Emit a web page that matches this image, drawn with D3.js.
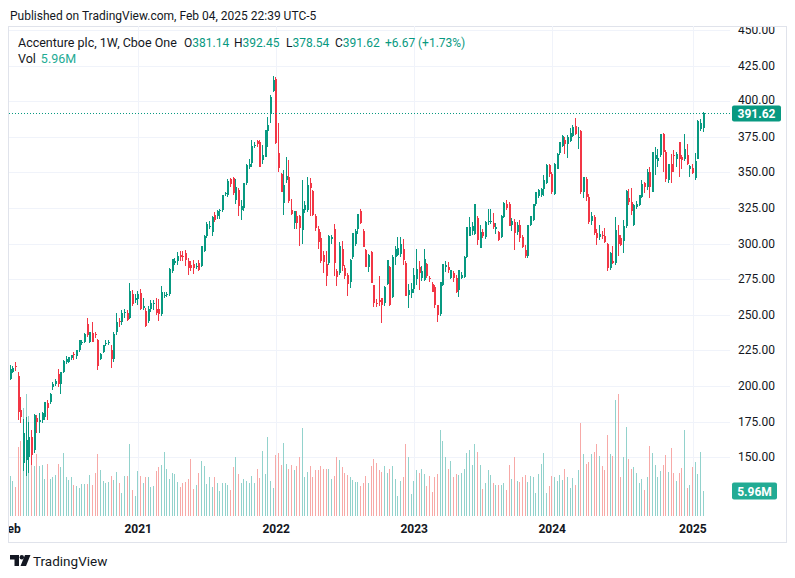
<!DOCTYPE html>
<html><head><meta charset="utf-8">
<script src="https://cdn.jsdelivr.net/npm/d3@7"></script>
<style>html,body{margin:0;padding:0;background:#fff;}svg{display:block;font-family:Roboto,"Noto Sans",sans-serif;}</style>
</head><body><svg id="c" width="795" height="578"></svg>
<script>
// Weekly candles, Accenture plc (ACN), week of 2020-02-03 .. 2025-02-03
const weekStart = "2020-02-03";
const opens = [
205.1,209.8,214,207,183,146,148,150,164.4,155.1,
177.2,174.9,176,178.4,187.7,188.8,199.3,201.6,208.6,201.6,
209.8,217,216.8,219.8,222.5,220.7,224.9,230.5,230.7,243.5,
230.7,237.2,236.5,232.3,219,223.7,229.5,230,225.4,219.1,
237.6,245.5,244.6,251,251.5,248,264.3,260,260.9,265.5,
255,252.7,245.7,253.9,257.5,254.3,254.3,250.4,263.5,264,
264.8,281,286.5,287.6,292.2,291.5,293.4,287.6,285.2,285.9,
283.5,286.4,284.1,294.6,305.5,311.5,307.8,320.2,319,322.5,
323.6,334.5,334,345,345.7,330.6,337.8,323.8,325,342.4,
354,356.8,368.5,372.2,371.5,358.7,361,379,390.8,407.1,
415.7,363.4,348.9,328.5,344.8,347,323.8,314.3,319.6,319.2,
309.4,323.8,323.8,342.4,336.6,319.2,309.9,304,291.7,285.5,
286.6,303.5,310.3,280.8,279.6,296,283,277.8,273,290.5,
299.8,310.3,323,309,295.1,283.5,294,270.7,258.5,260,
261.4,257.9,271.9,283.5,262.6,290.5,292,292.8,296.3,286.3,
263.7,265,268,275,283.5,276,274.2,285.4,276,271.9,
269.6,256.8,250.5,270.7,283.5,283.5,276.1,279.3,276.1,267.2,
276,276.5,290.5,305.6,309,306.8,317.6,296.7,308.3,304.8,
315,315.3,314.6,310.5,308.3,304.8,318.8,328,328,313,
315.3,308,313,304.8,295.5,290.9,312.9,316.5,328,333.2,
334,338.5,342.5,354.8,349,335,352.5,363.4,368.8,372.5,
370,372.3,375.8,382.7,374,379.2,336.2,345.5,332.7,316,
318.8,307.6,304.5,306.3,305,300,282.9,288,286.3,306,
303.8,301.8,312,331.7,329.4,313.1,325.7,327,332.9,342.2,
339.4,350.3,336.4,359.6,358,362,377,364.3,344.5,356,
362.4,359,371.2,360.8,359.6,362,352.6,353,346,359.6,
380.5,381.14];
const highs = [
214.4,214,216.5,209.5,192,177,178.5,175,169,180,
179.5,180.7,182,188.8,190,195,202.8,205,212,210,
218,221,220.5,222,224,225.5,232,232,236.8,247.6,
237.7,244.6,238,233,223,228.5,232,232,228.4,237.6,
251,248,253,254,253,272.5,267,264.5,266.6,268,
262,255,256,260,260,262,261,270,266,266,
282.5,289,290,294,294.6,295,295.5,290,287.6,288.6,
286,288.6,298.5,306,315,316,319.5,322,323.5,324.5,
334,336,345.2,346,346.5,345,339,330.5,342.5,356,
359,372.5,371.5,372.7,372.7,369,380,389,404,417.3,
417,384.3,349.4,351.5,360.5,358.7,331.3,322.7,322.7,320,
344.7,329.6,346.6,346,337.5,321,312,308,294.6,294.8,
306,306,313.4,282,301,301.7,285,279,289,307.2,
310,320.7,324.5,310,296,292.8,295,271,260.7,277,
262,270,288.2,284,291.7,298,304.4,304.9,303.3,288,
271.9,272,283,296,288,284,296,286,277,273,
270.7,257,273,285.8,288,287,281.2,281,278,281.2,
280,291,311.4,318.4,315,327.7,319.6,313,310,316,
323.9,323.9,321.1,314.5,309,320,329,330.2,329,318,
317,315,316.5,306,299,313,319.5,328,336.2,338,
339,347.9,356,356,350,356.5,363.5,371.5,376.5,375,
376,381,383,388.1,381.6,380,347,346.5,335,322,
320,310,313,309,310.8,300.5,294,298,318.9,313,
306,316.6,337.5,338,338.7,328,330,334.3,344.5,343.3,
352.6,353.8,364.3,367.7,366.6,377,377.5,365.4,356.1,363.1,
365.4,364.3,371.5,362,377,370,355,356,363.6,387,
387.5,392.45];
const lows = [
204,209,210.5,176,173.7,140,137,139,144.6,153,
166.7,166.7,174,176,176,187,197,200,199,194.6,
209,215.5,216,218,218.5,219,224,229,230,234.5,
230,230.5,233.5,211.4,218,223,228,229,212.8,217,
236,241.5,243,248,245.7,247,256,258,257,253,
253,241.5,244,252,253.5,250,245.7,249,262,262.5,
263,279,285,285,287.6,288,284.5,277.6,280.8,278.6,
282,281,283.5,294,304,310,305,315,317.5,317.5,
322,333.5,333,340,334,328,319.2,316.8,323,341,
352,354,367,367.5,353.5,356,360.5,368,384.5,406.4,
370,350.5,335.9,320,342.4,328.5,320.3,310.1,310.3,298.3,
300,321.5,322,319.6,319,309,296.4,286,279.6,270,
285,300,277.3,270,278,281,275,263.3,268.4,289,
298,307,313.8,297.5,283.5,280,272.3,255.5,255.6,256,
244,256.3,270.7,256,261.4,284.7,291,290.5,284.7,263,
254.4,262,265,271,267,274,274,276,273,266,
254.4,245,249,270,280,279,275,273,265,262.6,
275,276,290,305,306,306,298.6,296.7,304,303,
313,314,310.5,307,302,304,318,323.4,312,309,
295.5,306,301.3,297,289.7,290,312,316,326,332,
333,333.2,342,347,335,334,352,362,368,363,
360,371,375,376,366.4,335,332,330,314,313,
306,299,302.6,303,300.3,280.5,281.7,285.5,285.2,291,
298,293.3,311,327,320,312,324,326,332,335.2,
337.5,331.7,336,348,353.8,361,350,343.3,342.2,342.2,
350.3,353.8,346.8,352,358,355,346.8,349,344.5,359,
379,378.54];
const closes = [
212.1,212.6,213,182,178.4,166.7,162,164.4,151.6,179.5,
174.9,176,180.7,188.5,184.2,194.6,201.6,203.5,201.6,209.8,
217.4,219,220.2,221.4,222,224.9,231.9,230.9,236.5,235.4,
237.7,230.9,235.4,213.7,222.6,228.4,230,230.7,219.1,236.5,
245,244.6,251.5,252,246.4,266.7,257.4,262,264.8,254.3,
256,242.2,253.9,258.5,258.2,251.5,250.4,266,264,264.8,
282.2,288.8,287.5,291.5,290.6,290.5,288.3,283,283,283,
284.5,281.3,298.5,305.5,313.9,312.2,318.9,316.7,322.5,323.2,
334,335.5,344,342,335.3,339.5,326.2,326.2,342.4,355.2,
356,368.5,369.5,369.9,353.6,362.2,379.6,383,402.9,414.5,
370.8,352.9,336,341.3,347.5,329.6,321,322.7,314.3,311,
324,327.3,341.3,339,320,311,301,287.8,287.1,277.3,
305.2,304.5,286.6,276.2,298,284,277.3,271.5,288.2,307.2,
309,320.7,314.2,297.5,283.5,291.7,272.3,257.9,257.9,259,
256.8,269.6,288.2,256.8,290.5,296.3,297,299.8,288.2,263,
267.3,268,278,282.3,279,281,289.3,277,275.4,266.1,
256.8,249.8,273,285.8,284.6,281.2,281.2,276.1,266.1,281.2,
278,290.5,311.4,311.4,312,327.7,302.5,308.3,305.3,315.3,
315.5,316,311.3,311.5,302.5,319.2,328.5,324.6,312.3,316,
307.2,312.9,303.7,297.4,290.9,312.9,319.2,328,336.2,337.8,
338,344.8,354.8,349,336.2,356,363,371.1,375.8,370,
374.6,377.4,381.6,376.9,375,336.2,346.7,332.7,315.3,319,
307.2,303.7,306.8,305.5,300.8,283,293.3,286.3,309.6,300,
299.1,312,337,329.4,323.1,327,328,334,341.7,339.4,
350.3,339.9,364.3,361.9,360,377,364.5,345,356.1,350,
361.5,362.6,359.6,358.9,366.6,356.1,354.3,349.6,358,386.3,
384.95,391.62];
// weekly volume, millions of shares
const volumes = [
9.6,8.4,7.0,16.5,17.9,25.8,29.0,23.9,16.3,11.9,
14.7,11.9,12.2,8.9,12.3,8.9,9.2,9.8,12.3,11.7,
15.1,9.4,8.6,9.4,7.4,7.2,6.7,7.6,7.6,7.6,
9.8,7.4,10.3,14.7,11.0,8.4,7.8,8.1,9.6,8.6,
10.5,7.9,5.6,9.6,9.6,17.3,6.2,4.8,10.7,9.6,
7.9,9.4,9.2,7.0,7.2,10.7,11.7,12.2,15.3,11.3,
8.9,10.2,10.0,8.1,7.0,7.9,8.1,8.8,13.7,6.4,
7.4,10.2,13.1,11.9,7.6,9.3,7.0,9.2,7.9,6.0,
7.8,7.8,7.3,6.2,11.7,14.1,10.0,7.9,8.8,8.4,
7.8,9.6,7.9,11.1,9.0,15.5,10.1,18.9,8.4,6.8,
14.5,15.1,12.2,17.5,12.4,11.3,12.2,11.0,11.9,14.1,
21.0,9.4,10.5,11.9,9.2,11.0,11.0,11.9,11.3,11.3,
11.3,8.9,9.6,14.0,13.4,11.7,10.2,9.8,9.2,8.6,
8.1,8.1,7.2,7.8,9.6,7.8,11.9,13.5,12.6,11.0,
10.5,11.9,10.2,11.1,11.9,8.9,4.8,8.4,9.3,17.3,
14.1,5.3,8.4,11.0,10.2,11.3,10.1,7.2,9.6,5.7,
9.2,10.1,20.5,17.9,14.1,11.3,13.1,9.4,10.0,9.7,
10.3,11.3,15.0,15.7,12.1,17.1,15.3,12.1,6.4,7.9,
11.0,9.7,7.9,7.5,7.4,7.3,7.9,6.2,12.1,8.8,
14.1,8.4,8.1,9.4,9.7,8.1,9.6,9.2,5.4,10.0,
12.4,15.0,5.4,7.2,9.6,9.2,8.4,9.7,8.6,11.1,
9.4,6.8,9.0,7.5,11.0,22.3,14.7,12.4,13.0,14.7,
15.3,17.3,14.4,11.9,10.9,19.3,14.7,14.3,27.7,29.2,
9.4,14.0,21.2,13.5,11.1,11.7,10.2,7.9,8.8,6.2,
9.3,16.7,15.0,12.1,9.4,10.7,12.2,14.6,10.5,16.2,
10.3,8.3,10.2,11.5,20.6,6.7,7.4,11.7,12.8,10.1,
15.3,5.96];
const priceTicks = [150,175,200,225,250,275,300,325,350,375,400,425,450];
const timeTickLabels = ["Feb","2021","2022","2023","2024","2025"];
const timeTickDates = ["2020-02-03","2021-01-04","2022-01-03","2023-01-02","2024-01-01","2025-01-06"];
const legendTitle = "Accenture plc, 1W, Cboe One";
const legendKeys = ["O","H","L","C"];
const legendValues = ["381.14","392.45","378.54","391.62"];
const legendChange = "+6.67";
const legendChangePct = "(+1.73%)";
const lastVolumeLabel = "5.96M";

const GREEN="#089981", RED="#f23645", VGREEN="#92d2cc", VRED="#f7a9a7", TXT="#131722";
const svg = d3.select("#c");
const P = {l:9, r:730, t:26, b:516};
const n = closes.length;
const x = d3.scaleLinear().domain([0, n-1]).range([10.8, 703.5]);
const y = d3.scaleLinear().domain([150, 450]).range([457.1, 29.9]);
const yv = d3.scaleLinear().domain([0, 30]).range([P.b, P.b - 125.7]);
const t0 = d3.timeParse("%Y-%m-%d")(weekStart);
const idxOf = s => Math.round((d3.timeParse("%Y-%m-%d")(s) - t0) / (7*864e5));

// header
svg.append("text").attr("x",10).attr("y",19.5).attr("font-size",12).attr("fill",TXT)
  .text("Published on TradingView.com, Feb 04, 2025 22:39 UTC-5");
// frame
svg.append("rect").attr("x",8.5).attr("y",26.5).attr("width",778).attr("height",516)
  .attr("fill","none").attr("stroke","#e0e3eb");

const defs = svg.append("defs");
defs.append("clipPath").attr("id","pane").append("rect")
  .attr("x",P.l).attr("y",P.t).attr("width",P.r-P.l).attr("height",P.b-P.t);
defs.append("clipPath").attr("id","frame").append("rect")
  .attr("x",9).attr("y",27).attr("width",777).attr("height",515);

const pane = svg.append("g").attr("clip-path","url(#pane)");
// grid
pane.selectAll("line.h").data(priceTicks).join("line")
  .attr("x1",P.l).attr("x2",P.r).attr("y1",d=>Math.round(y(d))+0.5).attr("y2",d=>Math.round(y(d))+0.5)
  .attr("stroke","#f0f3fa");
pane.selectAll("line.v").data(timeTickDates.slice(1)).join("line")
  .attr("y1",P.t).attr("y2",P.b).attr("x1",d=>Math.round(x(idxOf(d)))+0.5).attr("x2",d=>Math.round(x(idxOf(d)))+0.5)
  .attr("stroke","#f0f3fa");

const idx = d3.range(n);
// volume
pane.append("g").selectAll("rect").data(idx).join("rect")
  .attr("x",i=>Math.round(x(i))-1).attr("width",1)
  .attr("y",i=>yv(volumes[i])).attr("height",i=>P.b-yv(volumes[i]))
  .attr("fill",i=>closes[i]>=opens[i]?VGREEN:VRED).attr("shape-rendering","crispEdges");
// candles
const cg = pane.append("g").attr("shape-rendering","crispEdges");
cg.selectAll("rect.w").data(idx).join("rect")
  .attr("x",i=>Math.round(x(i))-1).attr("width",1)
  .attr("y",i=>y(highs[i])).attr("height",i=>Math.max(1,y(lows[i])-y(highs[i])))
  .attr("fill",i=>closes[i]>=opens[i]?GREEN:RED);
cg.selectAll("rect.b").data(idx).join("rect")
  .attr("x",i=>Math.round(x(i))-1.5).attr("width",2)
  .attr("y",i=>y(Math.max(opens[i],closes[i]))).attr("height",i=>Math.max(1,Math.abs(y(opens[i])-y(closes[i]))))
  .attr("fill",i=>closes[i]>=opens[i]?GREEN:RED);
// last price line
const last = closes[n-1];
pane.append("line").attr("x1",P.l).attr("x2",P.r).attr("y1",Math.round(y(last))+0.5).attr("y2",Math.round(y(last))+0.5)
  .attr("stroke",GREEN).attr("stroke-dasharray","1,2");

// price axis
const ax = svg.append("g").attr("clip-path","url(#frame)");
ax.selectAll("text").data(priceTicks).join("text")
  .attr("x",738).attr("y",d=>y(d)+(d===400?2.5:4)).attr("font-size",12).attr("fill",TXT)
  .text(d=>d.toFixed(2));
ax.append("rect").attr("x",732).attr("y",y(last)-7.5).attr("width",49).attr("height",16).attr("rx",2).attr("fill",GREEN);
ax.append("text").attr("x",756.5).attr("y",y(last)+4.5).attr("text-anchor","middle").attr("font-size",12)
  .attr("font-weight","bold").attr("fill","#fff").text(last.toFixed(2));
const vl = volumes[n-1];
ax.append("rect").attr("x",732).attr("y",yv(vl)-8.5).attr("width",45).attr("height",17).attr("rx",2).attr("fill","#22ab94");
ax.append("text").attr("x",754.5).attr("y",yv(vl)+4.5).attr("text-anchor","middle").attr("font-size",12)
  .attr("font-weight","bold").attr("fill","#fff").text(lastVolumeLabel);

// time axis
ax.selectAll("text.t").data(timeTickLabels).join("text")
  .attr("x",(d,k)=>x(idxOf(timeTickDates[k]))).attr("y",533).attr("text-anchor","middle")
  .attr("font-size",12).attr("font-weight","bold").attr("fill",TXT).text(d=>d);

// legend
svg.append("text").attr("x",18).attr("y",46.5).attr("font-size",12.5).attr("fill",TXT).text(legendTitle);
const keyX = [184, 234, 286, 335];
legendKeys.forEach((k,j)=>{
  const t = svg.append("text").attr("x",keyX[j]).attr("y",46.5).attr("font-size",12).attr("fill",TXT);
  t.append("tspan").text(k);
  t.append("tspan").attr("fill",GREEN).text(legendValues[j]);
});
svg.append("text").attr("x",385).attr("y",46.5).attr("font-size",12).attr("fill",GREEN).text(legendChange);
svg.append("text").attr("x",418).attr("y",46.5).attr("font-size",12).attr("fill",GREEN).text(legendChangePct);
const lv = svg.append("text").attr("x",18).attr("y",63).attr("font-size",12.5).attr("fill",TXT);
lv.append("tspan").text("Vol");
lv.append("tspan").attr("dx",5).attr("fill","#22ab94").text(lastVolumeLabel);

// footer logo
const lgG = svg.append("g").attr("fill",TXT);
lgG.append("path").attr("d","M10,555 H19 V566 H14.5 V559.5 H10 Z");
lgG.append("circle").attr("cx",21.8).attr("cy",557.3).attr("r",2.2);
lgG.append("path").attr("d","M25,555 H30.5 L26,566 H20.5 Z");
svg.append("text").attr("x",33).attr("y",565.5).attr("font-size",13.5).attr("fill",TXT).text("TradingView");
</script></body></html>
